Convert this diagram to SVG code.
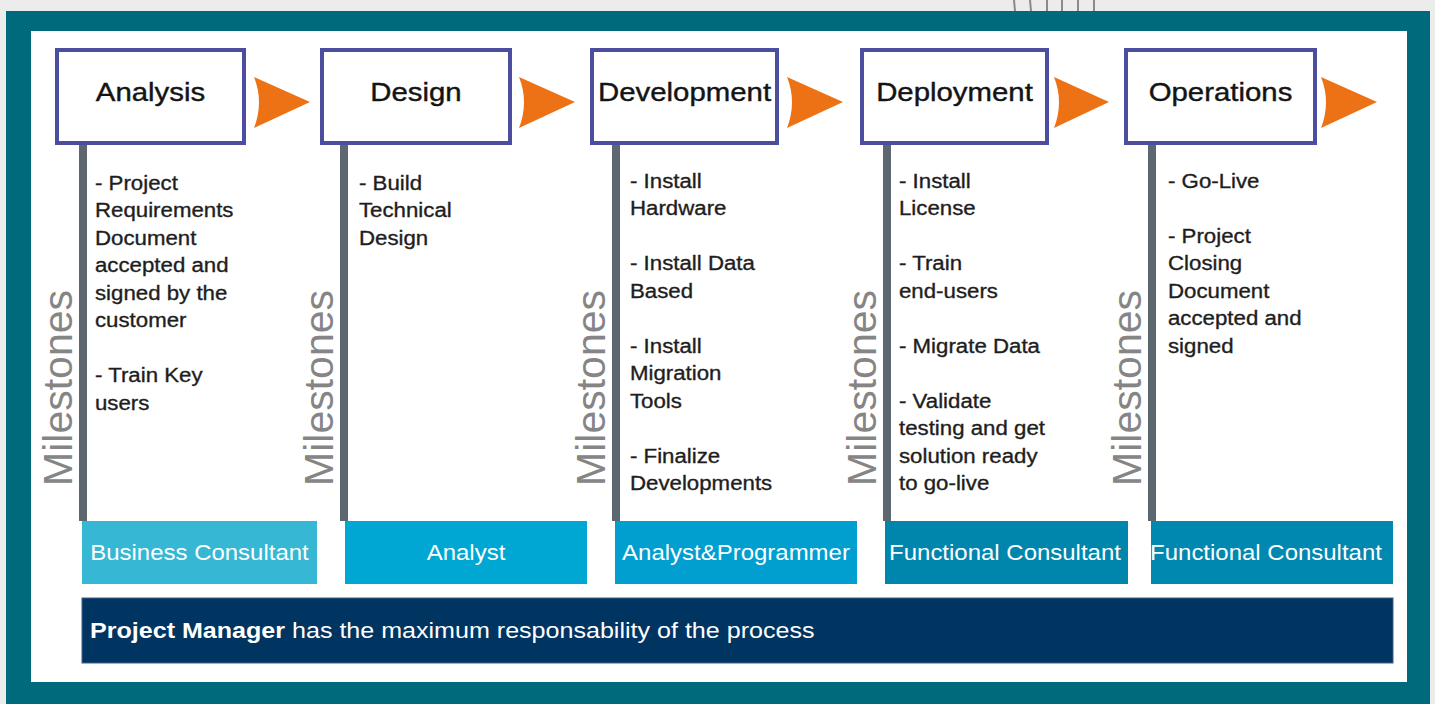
<svg xmlns="http://www.w3.org/2000/svg" width="1435" height="704" viewBox="0 0 1435 704">
<style>
.title{font-family:"Liberation Sans",Arial,sans-serif;font-size:26px;fill:#141414;stroke:#141414;stroke-width:0.4;text-anchor:middle}
.box{fill:#fff;stroke:#4b4d9e;stroke-width:4}
.body{font-family:"Liberation Sans",Arial,sans-serif;font-size:21px;fill:#1e1e1e;stroke:#1e1e1e;stroke-width:0.35}
.ms{font-family:"Liberation Sans",Arial,sans-serif;font-size:41px;fill:#858585;text-anchor:middle}
.vline{fill:#5d6770}
.role{font-family:"Liberation Sans",Arial,sans-serif;font-size:22px;fill:#fff;text-anchor:middle}
.arrow{fill:#ec7215}
.pm{font-family:"Liberation Sans",Arial,sans-serif;font-size:22px;fill:#fff}
.deco{stroke:#8a8a8a;stroke-width:2}
</style>
<rect x="0" y="0" width="1435" height="704" fill="#ececec"/>
<g id="deco">
<line class="deco" x1="1014" y1="0" x2="1015" y2="11"/>
<line class="deco" x1="1030" y1="0" x2="1031" y2="11"/>
<line class="deco" x1="1047" y1="0" x2="1047" y2="11"/>
<line class="deco" x1="1062" y1="0" x2="1062" y2="11"/>
<line class="deco" x1="1078" y1="0" x2="1078" y2="11"/>
<line class="deco" x1="1094" y1="0" x2="1094" y2="11"/>
</g>
<rect id="frame" x="6" y="11" width="1424" height="693" fill="#006a7d"/>
<rect id="panel" x="31" y="31" width="1376" height="651" fill="#fff"/>

<g id="connectors">
<path class="arrow" d="M254,77 L310,102 L254,128 Q264,102 254,77 Z"/>
<path class="arrow" d="M519,77 L575,102 L519,128 Q529,102 519,77 Z"/>
<path class="arrow" d="M787,77 L843,102 L787,128 Q797,102 787,77 Z"/>
<path class="arrow" d="M1054,77 L1109,102 L1054,128 Q1064,102 1054,77 Z"/>
<path class="arrow" d="M1321,77 L1377,102 L1321,128 Q1331,102 1321,77 Z"/>
</g>

<g id="analysis">
<rect class="vline" x="79" y="143" width="8" height="378"/>
<rect class="box" x="57" y="50" width="187" height="93"/>
<text class="title" transform="translate(150.5,101) scale(1.13,1)">Analysis</text>
<text class="ms" transform="translate(72,388) rotate(-90)">Milestones</text>
<g transform="translate(95,0) scale(1.06,1)">
<text class="body" x="0" y="190">- Project</text>
<text class="body" x="0" y="217.5">Requirements</text>
<text class="body" x="0" y="245">Document</text>
<text class="body" x="0" y="272.5">accepted and</text>
<text class="body" x="0" y="300">signed by the</text>
<text class="body" x="0" y="327.5">customer</text>
<text class="body" x="0" y="382.5">- Train Key</text>
<text class="body" x="0" y="410">users</text>
</g>
</g>

<g id="design">
<rect class="vline" x="340" y="143" width="8" height="378"/>
<rect class="box" x="322" y="50" width="188" height="93"/>
<text class="title" transform="translate(416,101) scale(1.13,1)">Design</text>
<text class="ms" transform="translate(333,388) rotate(-90)">Milestones</text>
<g transform="translate(359,0) scale(1.06,1)">
<text class="body" x="0" y="190">- Build</text>
<text class="body" x="0" y="217.5">Technical</text>
<text class="body" x="0" y="245">Design</text>
</g>
</g>

<g id="development">
<rect class="vline" x="612" y="143" width="8" height="378"/>
<rect class="box" x="592" y="50" width="185" height="93"/>
<text class="title" transform="translate(684.5,101) scale(1.13,1)">Development</text>
<text class="ms" transform="translate(605,388) rotate(-90)">Milestones</text>
<g transform="translate(630,0) scale(1.06,1)">
<text class="body" x="0" y="188">- Install</text>
<text class="body" x="0" y="215.5">Hardware</text>
<text class="body" x="0" y="270.5">- Install Data</text>
<text class="body" x="0" y="298">Based</text>
<text class="body" x="0" y="353">- Install</text>
<text class="body" x="0" y="380.5">Migration</text>
<text class="body" x="0" y="408">Tools</text>
<text class="body" x="0" y="463">- Finalize</text>
<text class="body" x="0" y="490.5">Developments</text>
</g>
</g>

<g id="deployment">
<rect class="vline" x="883" y="143" width="8" height="378"/>
<rect class="box" x="862" y="50" width="185" height="93"/>
<text class="title" transform="translate(954.5,101) scale(1.13,1)">Deployment</text>
<text class="ms" transform="translate(876,388) rotate(-90)">Milestones</text>
<g transform="translate(899,0) scale(1.06,1)">
<text class="body" x="0" y="188">- Install</text>
<text class="body" x="0" y="215.5">License</text>
<text class="body" x="0" y="270.5">- Train</text>
<text class="body" x="0" y="298">end-users</text>
<text class="body" x="0" y="353">- Migrate Data</text>
<text class="body" x="0" y="408">- Validate</text>
<text class="body" x="0" y="435.5">testing and get</text>
<text class="body" x="0" y="463">solution ready</text>
<text class="body" x="0" y="490.5">to go-live</text>
</g>
</g>

<g id="operations">
<rect class="vline" x="1148" y="143" width="8" height="378"/>
<rect class="box" x="1126" y="50" width="189" height="93"/>
<text class="title" transform="translate(1220.5,101) scale(1.13,1)">Operations</text>
<text class="ms" transform="translate(1141,388) rotate(-90)">Milestones</text>
<g transform="translate(1168,0) scale(1.06,1)">
<text class="body" x="0" y="188">- Go-Live</text>
<text class="body" x="0" y="243">- Project</text>
<text class="body" x="0" y="270.5">Closing</text>
<text class="body" x="0" y="298">Document</text>
<text class="body" x="0" y="325.5">accepted and</text>
<text class="body" x="0" y="353">signed</text>
</g>
</g>

<g id="role-business-consultant">
<rect x="82" y="521" width="235" height="63" fill="#36b7d4"/>
<text class="role" transform="translate(199.5,560) scale(1.09,1)">Business Consultant</text>
</g>
<g id="role-analyst">
<rect x="345" y="521" width="242" height="63" fill="#00a7d3"/>
<text class="role" transform="translate(466,560) scale(1.09,1)">Analyst</text>
</g>
<g id="role-analyst-programmer">
<rect x="615" y="521" width="242" height="63" fill="#009fcf"/>
<text class="role" transform="translate(736,560) scale(1.09,1)">Analyst&amp;Programmer</text>
</g>
<g id="role-functional-1">
<rect x="885" y="521" width="243" height="63" fill="#0086ad"/>
<text class="role" transform="translate(1005,560) scale(1.09,1)">Functional Consultant</text>
</g>
<g id="role-functional-2">
<rect x="1151" y="521" width="242" height="63" fill="#0088b0"/>
<text class="role" transform="translate(1266,560) scale(1.09,1)">Functional Consultant</text>
</g>

<g id="project-manager">
<rect x="82" y="598" width="1311" height="65" fill="#003562" stroke="#3f6189" stroke-width="1"/>
<text class="pm" transform="translate(90,638) scale(1.14,1)"><tspan font-weight="bold">Project Manager</tspan> has the maximum responsability of the process</text>
</g>
</svg>
